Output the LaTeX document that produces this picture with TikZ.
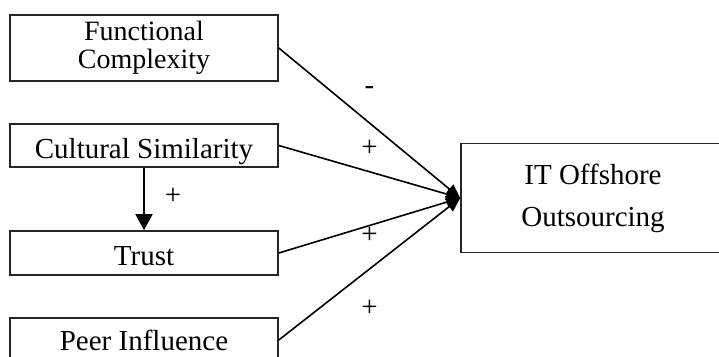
\documentclass[tikz,border=0pt]{standalone}
\usepackage{fontspec}
\setmainfont{Liberation Serif}
\usetikzlibrary{arrows.meta,positioning}

\begin{document}
\begin{tikzpicture}[
  x=1pt, y=-1pt,
  box/.style={rectangle, draw=black!85, line width=1.6pt, minimum width=268pt, align=center, inner sep=0pt, font=\fontsize{29}{28}\selectfont},
  onerow/.style={text height=25pt, text depth=0pt},
  arr/.style={-{Triangle[length=14pt,width=12pt]}, line width=1.6pt},
  lbl/.style={inner sep=0pt, font=\fontsize{29}{29}\selectfont}]
\useasboundingbox (0,0) rectangle (719,356);
\clip (0,0) rectangle (719,356);
\node[box, minimum height=66pt, font=\fontsize{28}{28}\selectfont] (fc) at (144,48) {Functional\\Complexity};
\node[box, onerow, minimum height=43pt] (cs) at (144,145.5) {Cultural Similarity};
\node[box, onerow, minimum height=44pt] (tr) at (144,253) {Trust};
\node[box, onerow, text height=21pt, minimum height=44pt] (pi) at (144,340) {Peer Influence};
\node[box, minimum width=264pt, minimum height=109pt] (it) at (593,198) {IT Offshore\\[14pt]Outsourcing};
\coordinate (tip) at (it.west);
\draw[arr, -{Triangle[length=16pt,width=17pt]}] (cs) -- node[lbl, xshift=29pt, yshift=3pt] (p0) {+} (tr);
\foreach \n/\s/\dy in {fc/-/32, cs/+/23, tr/+/-10, pi/+/-39}
  \draw[arr] (\n.east) -- node[lbl, yshift=\dy pt] {\s} (tip);
\end{tikzpicture}
\end{document}
